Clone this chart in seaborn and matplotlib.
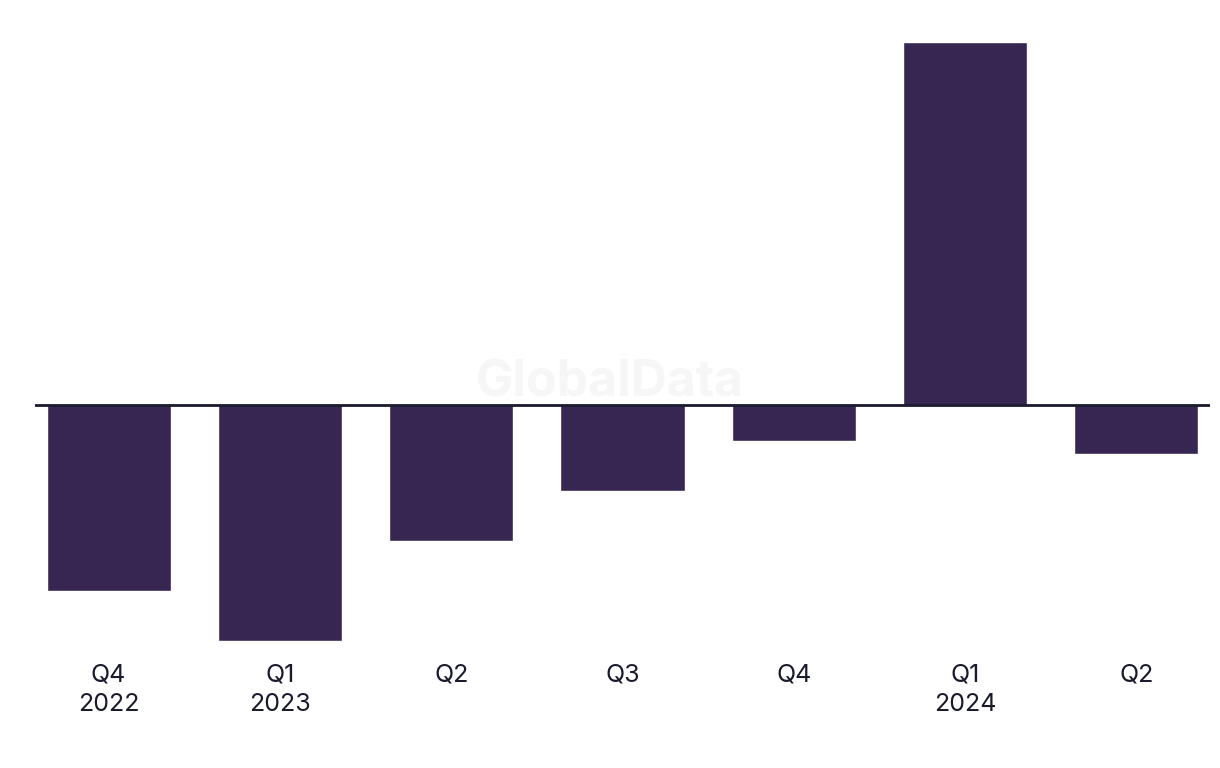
import pandas as pd
import seaborn as sns
import matplotlib.pyplot as plt

quarters = ['Q4\n2022', 'Q1\n2023', 'Q2', 'Q3', 'Q4', 'Q1\n2024', 'Q2']
values = [-18.6, -23.6, -13.6, -8.6, -3.6, 36.3, -4.9]

# labels repeat (Q2, Q4), so plot on a unique key and relabel afterwards
df = pd.DataFrame({'key': [f'{i}' for i in range(len(quarters))], 'value': values})

sns.set_style('white')
plt.rcParams['font.family'] = ['Inter', 'DejaVu Sans']

fig = plt.figure(figsize=(12.2, 7.68), dpi=100)
ax = fig.add_axes([35 / 1220, 1 - 641 / 768, 1175 / 1220, (641 - 42) / 768])

sns.barplot(data=df, x='key', y='value', color='#372652', saturation=1,
            width=0.725, errorbar=None, ax=ax)

ax.set_xlim(-0.43, 6.43)
ax.set_ylim(min(values), max(values))
ax.axhline(0, color='#1a1a2e', linewidth=2, zorder=5)

for s in ax.spines.values():
    s.set_visible(False)
ax.set_yticks([])
ax.set_xticks(range(len(quarters)))
ax.set_xticklabels(quarters, linespacing=1.38)
ax.set_xlabel('')
ax.set_ylabel('')
ax.tick_params(axis='x', length=0, pad=16, labelsize=18, labelcolor='#1a1a2e')

fig.text(0.5, 1 - 383 / 768, 'GlobalData', ha='center', va='center',
         fontsize=36, fontweight='bold', color='#f6f6f6', zorder=0)

fig.savefig('out.png', dpi=100, facecolor='white')
